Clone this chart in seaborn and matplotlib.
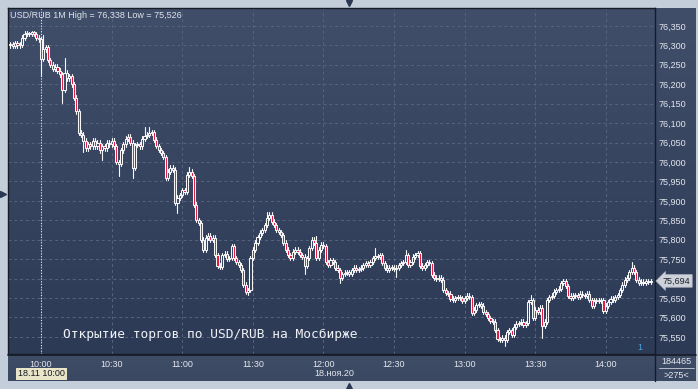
import numpy as np
import pandas as pd
import matplotlib
matplotlib.use("Agg")
import matplotlib.pyplot as plt
import matplotlib.transforms as mtransforms
from matplotlib.colors import LinearSegmentedColormap
from matplotlib.lines import Line2D
import seaborn as sns

# ---------------- data ----------------
symbol = "USD/RUB"
timeframe = "1M"
first_candle_minute = -13          # 09:47, minutes relative to 10:00
first_open = 76.300
closes = [
    76.303, 76.298, 76.305, 76.300, 76.302, 76.320, 76.330, 76.332, 76.330, 76.333, 76.330, 76.320, 76.315,
    76.265, 76.290, 76.295, 76.262, 76.250, 76.240, 76.245, 76.235, 76.225, 76.185, 76.230, 76.215, 76.220,
    76.200, 76.165, 76.130, 76.075,
    76.070, 76.055, 76.035, 76.045, 76.040, 76.055, 76.040, 76.050, 76.030, 76.040, 76.035, 76.050, 76.045,
    76.055, 76.040, 76.000, 75.995, 76.030, 76.045, 76.060, 76.065, 76.050, 75.985,
    76.044, 76.045, 76.040, 76.060, 76.067, 76.070, 76.075, 76.077, 76.057, 76.041, 76.031, 76.023, 76.013,
    75.959, 75.975, 75.985, 75.980, 75.895, 75.908, 75.915, 75.928, 75.923, 75.967, 75.975, 75.964, 75.890,
    75.851, 75.843, 75.800, 75.774, 75.805, 75.810, 75.800, 75.805,
    75.761, 75.733, 75.730, 75.761, 75.764, 75.751, 75.753, 75.784, 75.753, 75.743, 75.735, 75.722, 75.684,
    75.666, 75.671, 75.753, 75.774, 75.792, 75.807, 75.818, 75.825, 75.838, 75.856, 75.864, 75.846, 75.838,
    75.825, 75.820, 75.812, 75.792, 75.774, 75.761, 75.753, 75.769, 75.774, 75.769, 75.761, 75.756, 75.733,
    75.753, 75.779, 75.800, 75.792, 75.753, 75.774, 75.787, 75.784, 75.743, 75.735, 75.748, 75.743,
    75.728, 75.722, 75.702, 75.712, 75.715, 75.717, 75.712, 75.722, 75.728, 75.722, 75.725, 75.728, 75.735,
    75.740, 75.735, 75.743, 75.753, 75.758, 75.756, 75.761, 75.740, 75.728, 75.722, 75.728, 75.728, 75.725,
    75.728, 75.735, 75.740, 75.743, 75.761, 75.735, 75.743, 75.756, 75.761, 75.766, 75.733, 75.728, 75.735,
    75.743, 75.740, 75.710, 75.702, 75.699, 75.702, 75.697, 75.671, 75.663, 75.661, 75.648, 75.645,
    75.650, 75.653, 75.650, 75.643, 75.650, 75.656, 75.653, 75.612, 75.620, 75.632, 75.635, 75.630, 75.614,
    75.609, 75.599, 75.591, 75.589, 75.568, 75.545, 75.542, 75.548, 75.542, 75.563, 75.568, 75.555,
    75.576, 75.584, 75.586, 75.589, 75.581, 75.586, 75.640, 75.645, 75.599, 75.620, 75.614, 75.625, 75.578,
    75.589, 75.645, 75.653, 75.656, 75.666, 75.671, 75.674, 75.689, 75.694, 75.681, 75.656, 75.650,
    75.656, 75.658, 75.653, 75.661, 75.658, 75.656, 75.661, 75.645, 75.630, 75.643, 75.645, 75.643, 75.645,
    75.617, 75.630, 75.640, 75.648, 75.645, 75.653, 75.658, 75.671, 75.684, 75.697, 75.702, 75.717, 75.728,
    75.717, 75.697, 75.689, 75.692, 75.689, 75.694, 75.692, 75.694,
]
# notable wick extremes (minute -> price)
wick_high = {-6: 76.336, -5: 76.335, -4: 76.338, -3: 76.336, -2: 76.334, 1: 76.327, 10: 76.268,
             44: 76.090, 46: 76.090, 63: 75.987, 96: 75.872, 117: 75.810, 142: 75.779,
             155: 75.774, 208: 75.658, 222: 75.700, 251: 75.743}
wick_low = {0: 76.222, 9: 76.152, 18: 76.026, 26: 76.005, 33: 75.964, 39: 75.959,
            58: 75.869, 88: 75.658, 112: 75.712, 127: 75.689, 151: 75.704,
            197: 75.526, 213: 75.548}
wick_pad = 0.006

price_ticks = [75.55, 75.60, 75.65, 75.70, 75.75, 75.80, 75.85, 75.90, 75.95,
               76.00, 76.05, 76.10, 76.15, 76.20, 76.25, 76.30, 76.35]
time_ticks = [0, 30, 60, 90, 120, 150, 180, 210, 240]
time_labels = ["10:00", "10:30", "11:00", "11:30", "12:00", "12:30", "13:00", "13:30", "14:00"]
date_label = "18.ноя.20"
cursor_label = "18.11 10:00"
volume_label = "184465"
count_label = ">275<"
note = "Открытие торгов по USD/RUB на Мосбирже"

# ---------------- derived candles ----------------
minutes = np.arange(first_candle_minute, first_candle_minute + len(closes))
closes_a = np.array(closes)
opens_a = np.concatenate([[first_open], closes_a[:-1]])
tops = np.maximum(opens_a, closes_a)
bots = np.minimum(opens_a, closes_a)
highs = np.array([wick_high.get(int(m), t + wick_pad) for m, t in zip(minutes, tops)])
lows = np.array([wick_low.get(int(m), b - wick_pad) for m, b in zip(minutes, bots)])

rows = []
for i, m in enumerate(minutes):
    rows += [(m, highs[i], 2 * i), (m, tops[i], 2 * i),
             (m, bots[i], 2 * i + 1), (m, lows[i], 2 * i + 1)]
wicks = pd.DataFrame(rows, columns=["minute", "price", "seg"])

# ---------------- style ----------------
sns.set_theme(style="dark")
plt.rcParams["font.family"] = ["Liberation Sans", "DejaVu Sans"]

W, H = 698, 389
fig = plt.figure(figsize=(W / 100, H / 100), dpi=100, facecolor="#c4cdda")


def rect(x0, y0, x1, y1):
    return [x0 / W, 1 - y1 / H, (x1 - x0) / W, (y1 - y0) / H]


def gradient_axes(r, top, bottom):
    a = fig.add_axes(r)
    cmap = LinearSegmentedColormap.from_list("g", [top, bottom])
    a.imshow(np.linspace(0, 1, 256)[:, None], cmap=cmap, aspect="auto",
             extent=[0, 1, 0, 1])
    a.set_xlim(0, 1)
    a.set_ylim(0, 1)
    a.set_axis_off()
    return a


gradient_axes(rect(8, 354, 696, 381), "#404d67", "#3b4862")
gradient_axes(rect(655, 8, 696, 354), "#414e69", "#2d3a56")
gradient_axes(rect(8, 8, 655, 354), "#414e69", "#2d3a56")

ax = fig.add_axes(rect(8, 8, 655, 354))
ax.set_facecolor("none")

# wicks through seaborn
sns.lineplot(data=wicks, x="minute", y="price", units="seg", estimator=None,
             sort=False, color="#f6f6f6", linewidth=0.8, ax=ax, legend=False)

# bodies
up = closes_a >= opens_a
faces = ["none" if u else "#e3173f" for u in up]
heights = np.maximum(tops - bots, 0.0008)
ax.bar(minutes, heights, bottom=bots, width=0.9, color=faces,
       edgecolor="#f6f6f6", linewidth=0.75, zorder=3)

ax.set_xlim(-14.02, 260.9)
ax.set_ylim(75.506, 76.396)
ax.set_xlabel("")
ax.set_ylabel("")

last = closes_a[-1]
ax.set_xticks(time_ticks)
ax.set_xticklabels(time_labels)
ax.set_yticks(price_ticks)
# the tick label hidden behind the current-price marker is left blank
ax.set_yticklabels(["" if abs(v - last) < 0.02 else f"{v:.3f}".replace(".", ",")
                    for v in price_ticks])
ax.yaxis.tick_right()
ax.tick_params(axis="y", length=0, pad=2.5, labelsize=6.5, labelcolor="#e3e7ee")
ax.tick_params(axis="x", length=0, pad=4.0, labelsize=6.5, labelcolor="#e3e7ee")
ax.grid(True, color="#56647d", linestyle=(0, (3, 3)), linewidth=0.7)
ax.set_axisbelow(True)
ax.axvline(0, color="#e8e8e8", linestyle=(0, (1, 1.5)), linewidth=0.8, zorder=1.6)
for s in ax.spines.values():
    s.set_color("#161b26")
    s.set_linewidth(1.0)

# current price marker
blend = mtransforms.blended_transform_factory(ax.transAxes, ax.transData)
ax.text(1.012, last, f"{last:.3f}".replace(".", ","), transform=blend,
        fontsize=6.5, color="#1b1f28", va="center", ha="left", zorder=10,
        bbox=dict(boxstyle="larrow,pad=0.2", fc="#cdd1d9", ec="#aeb3bd", lw=0.5))

# note in chart
ax.text(0.085, 0.056, note, transform=ax.transAxes, family="DejaVu Sans Mono",
        fontsize=9.3, color="#eef1f5", va="center", ha="left")

# title
fig.text(10 / W, 1 - 16 / H,
         f"{symbol} {timeframe} High = {highs.max():.3f} Low = {lows.min():.3f}".replace(".", ","),
         fontsize=6.5, color="#dfe3ea", va="center", ha="left")

# bottom panel texts
fig.text(334 / W, 1 - 373 / H, date_label, fontsize=6.5, color="#e3e7ee", ha="center", va="center")
fig.text(18 / W, 1 - 374 / H, cursor_label, fontsize=6.5, color="#15181f", ha="left", va="center",
         bbox=dict(boxstyle="square,pad=0.2", fc="#e9e5c9", ec="none"))
fig.text(676 / W, 1 - 362 / H, volume_label, fontsize=6.5, color="#e3e7ee", ha="center", va="center")
fig.text(676 / W, 1 - 375 / H, count_label, fontsize=6.5, color="#e3e7ee", ha="center", va="center")
fig.add_artist(Line2D([659 / W, 694 / W], [1 - 368 / H, 1 - 368 / H], color="#c9ced8", lw=0.6))
fig.add_artist(Line2D([655 / W, 655 / W], [1 - 354 / H, 1 - 381 / H], color="#161b26", lw=1.0))
fig.add_artist(Line2D([8 / W, 696 / W], [1 - 354.5 / H, 1 - 354.5 / H], color="#161b26", lw=1.2))
fig.text(640 / W, 1 - 348 / H, "1", fontsize=6.5, color="#4aa6e6", ha="center", va="center")

# frame decorations
for (px, py, mk) in [(349, 3, "v"), (349, 386, "^"), (3, 194, ">")]:
    fig.add_artist(Line2D([px / W], [1 - py / H], marker=mk, markersize=5,
                          color="#2a3753", linestyle="none"))

fig.savefig("out.png", dpi=100, facecolor=fig.get_facecolor())
